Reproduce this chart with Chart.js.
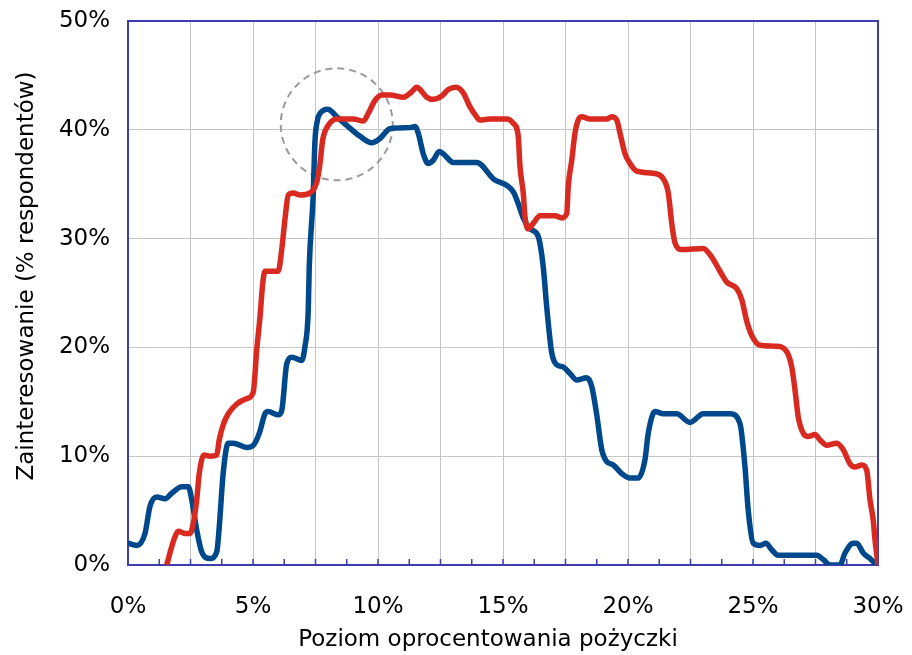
<!DOCTYPE html>
<html lang="pl">
<head>
  <meta charset="UTF-8" />
  <title>Zainteresowanie a oprocentowanie pożyczki</title>
  <script src="https://cdn.jsdelivr.net/npm/chart.js"></script>
  <style>
    body {
      margin: 0;
      background: #fff;
    }
    .chart-container {
      position: relative;
      width: 912px;
      height: 655px;
    }
  </style>
</head>
<body>
  <div class="chart-container">
    <canvas id="interestChart"></canvas>
  </div>

  <script>
    // niebieska seria: oprocentowanie (%) i zainteresowanie (%)
    const blueX = [0, 0.35, 0.68, 0.88, 1.15, 1.48, 1.75, 2.15, 2.41, 2.55, 2.75, 2.95, 3.28, 3.55, 3.65, 3.81,
      4.01, 4.21, 4.75, 5.01, 5.25, 5.48, 5.61, 6.01, 6.15, 6.35, 6.55, 6.95, 7.08, 7.21, 7.25, 7.4, 7.48, 7.58,
      7.68, 7.99, 8.35, 8.75, 9.28, 9.75, 10.08, 10.48, 11.28, 11.48, 11.61, 11.81, 12.01, 12.21, 12.45, 12.61,
      13.01, 13.95, 14.61, 15.41, 15.61, 15.81, 16.08, 16.41, 16.61, 16.75, 16.95, 17.15, 17.41, 17.68, 17.95,
      18.35, 18.55, 18.75, 18.95, 19.15, 19.41, 19.75, 20.08, 20.41, 20.68, 20.81, 21.08, 21.41, 21.95, 22.48,
      23.01, 24.08, 24.48, 24.68, 24.81, 25.01, 25.28, 25.52, 25.75, 26.01, 27.55, 27.81, 28.08, 28.48, 28.68,
      29.01, 29.15, 29.41, 29.68, 29.95];
    const blueY = [2.0, 1.8, 2.9, 5.4, 6.25, 6.1, 6.6, 7.2, 7.2, 6.0, 3.2, 1.2, 0.6, 1.2, 3.5, 8.5,
      11.2, 11.2, 10.8, 11.0, 12.1, 13.9, 14.1, 13.8, 14.2, 18.5, 19.1, 18.8, 20.1, 23.4, 27.4, 33.6, 39.0, 40.9,
      41.5, 41.9, 41.2, 40.4, 39.4, 38.8, 39.2, 40.1, 40.2, 40.3, 39.7, 37.8, 36.9, 37.2, 38.0, 37.8,
      37.0, 37.0, 35.5, 34.3, 33.2, 31.9, 30.9, 30.2, 27.4, 23.7, 19.5, 18.4, 18.2, 17.6, 17.0,
      17.2, 16.4, 13.8, 10.6, 9.5, 9.2, 8.4, 8.0, 8.0, 9.7, 12.1, 14.1, 13.9, 13.9, 13.1,
      13.9, 13.9, 13.0, 9.0, 5.0, 2.0, 1.8, 2.0, 1.4, 0.9, 0.9, 0.5, 0, 0, 1.1,
      2.0, 2.0, 1.1, 0.6, 0];

    // czerwona seria
    const redX = [1.55, 1.75, 1.88, 2.01, 2.28, 2.48, 2.61, 2.75, 2.85, 3.04, 3.28, 3.55, 3.65, 3.81, 4.01,
      4.35, 4.75, 5.01, 5.15, 5.28, 5.39, 5.48, 6.01, 6.15, 6.28, 6.41, 6.61, 6.88, 7.28, 7.55, 7.68, 7.79,
      8.01, 8.35, 9.01, 9.41, 9.61, 9.88, 10.15, 10.48, 11.01, 11.35, 11.55, 11.68, 11.95, 12.21, 12.55,
      12.81, 13.12, 13.41, 13.68, 13.88, 14.08, 14.48, 15.15, 15.41, 15.61, 15.68, 15.81, 15.88, 16.01,
      16.21, 16.48, 17.08, 17.35, 17.55, 17.61, 17.75, 17.88, 18.01, 18.15, 18.48, 19.15, 19.35, 19.55,
      19.68, 19.88, 20.08, 20.35, 21.01, 21.41, 21.61, 21.75, 21.88, 22.15, 23.01, 23.35, 23.68, 23.95,
      24.35, 24.55, 24.75, 24.95, 25.28, 25.95, 26.35, 26.55, 26.68, 26.81, 27.01, 27.21, 27.48, 27.68,
      27.95, 28.35, 28.61, 28.88, 29.08, 29.35, 29.55, 29.68, 29.81, 29.88, 30.0];
    const redY = [0, 1.7, 2.6, 3.1, 2.9, 2.9, 3.8, 6.0, 8.4, 10.1, 10.0, 10.1, 11.5, 12.9, 13.9,
      14.8, 15.3, 15.9, 19.8, 22.8, 25.9, 27.0, 27.0, 29.0, 31.8, 34.0, 34.2, 34.0, 34.2, 35.2, 36.9, 39.1,
      40.4, 41.0, 41.0, 40.8, 41.5, 42.7, 43.2, 43.2, 43.0, 43.5, 43.9, 43.7, 43.0, 42.8, 43.1,
      43.7, 43.9, 43.4, 42.1, 41.4, 40.9, 41.0, 41.0, 40.6, 39.4, 36.6, 34.2, 32.0, 30.9,
      31.4, 32.1, 32.1, 31.9, 32.3, 34.8, 37.2, 39.7, 40.9, 41.2, 41.0, 41.0, 41.2, 40.9,
      39.7, 37.8, 36.9, 36.2, 36.0, 35.5, 34.2, 31.4, 29.6, 29.0, 29.1, 28.3, 27.0, 26.0,
      25.4, 24.4, 22.4, 21.1, 20.2, 20.1, 19.6, 18.2, 16.1, 13.6, 12.1, 11.8, 12.0, 11.5,
      11.0, 11.2, 10.6, 9.3, 9.0, 9.2, 8.7, 6.0, 4.1, 2.3, 0];

    // zaznaczony obszar (środek okręgu w jednostkach osi)
    const circleX = 8.35;
    const circleY = 40.5;

    const fontFamily = '"DejaVu Sans", sans-serif';
    const frameColor = '#3d3dad';
    const gridColor = '#c6c6c6';

    function toPoints(xs, ys) {
      return xs.map((x, i) => ({ x: x, y: ys[i] }));
    }

    const framePlugin = {
      id: 'frame',
      beforeDatasetsDraw(chart) {
        const { ctx, chartArea: a, scales } = chart;
        ctx.save();

        // przerywany okrąg
        ctx.beginPath();
        ctx.setLineDash([7, 5]);
        ctx.strokeStyle = '#9a9a9a';
        ctx.lineWidth = 2;
        ctx.arc(scales.x.getPixelForValue(circleX), scales.y.getPixelForValue(circleY), 56, 0, Math.PI * 2);
        ctx.stroke();
        ctx.setLineDash([]);

        // ramka wykresu
        ctx.strokeStyle = frameColor;
        ctx.lineWidth = 2;
        ctx.strokeRect(a.left, a.top, a.right - a.left, a.bottom - a.top);

        // krótkie kreski osi X do środka
        ctx.lineWidth = 1.5;
        scales.x.ticks.forEach(t => {
          const px = scales.x.getPixelForValue(t.value);
          ctx.beginPath();
          ctx.moveTo(px, a.bottom);
          ctx.lineTo(px, a.bottom - 6);
          ctx.stroke();
        });
        ctx.restore();
      },
      afterDraw(chart) {
        const ctx = chart.ctx;
        ctx.save();
        ctx.fillStyle = '#000';
        ctx.font = '23px ' + fontFamily;
        ctx.textAlign = 'center';
        ctx.textBaseline = 'middle';
        ctx.fillText('Poziom oprocentowania pożyczki', 488, 640);
        ctx.translate(27, 276);
        ctx.rotate(-Math.PI / 2);
        ctx.fillText('Zainteresowanie (% respondentów)', 0, 0);
        ctx.restore();
      }
    };

    new Chart(document.getElementById('interestChart'), {
      type: 'line',
      data: {
        datasets: [
          {
            data: toPoints(redX, redY),
            borderColor: '#d92a21',
            borderWidth: 5.5,
            pointRadius: 0,
            cubicInterpolationMode: 'monotone'
          },
          {
            data: toPoints(blueX, blueY),
            borderColor: '#00488c',
            borderWidth: 5.5,
            pointRadius: 0,
            cubicInterpolationMode: 'monotone'
          }
        ]
      },
      options: {
        responsive: true,
        maintainAspectRatio: false,
        animation: false,
        layout: { padding: { top: 21, right: 34, left: 0, bottom: 0 } },
        plugins: {
          legend: { display: false },
          tooltip: { enabled: false }
        },
        scales: {
          x: {
            type: 'linear',
            min: 0,
            max: 30,
            afterFit: s => {
              s.height = 90;
              s.paddingLeft = 0;
              s.paddingRight = 0;
            },
            border: { display: false },
            grid: {
              color: c => (c.tick && c.tick.value % 2.5 === 0) ? gridColor : 'rgba(0,0,0,0)',
              lineWidth: 1,
              drawTicks: false,
              tickLength: 0
            },
            ticks: {
              stepSize: 1.25,
              autoSkip: false,
              maxRotation: 0,
              padding: 28,
              color: '#000',
              font: { family: fontFamily, size: 23 },
              callback: v => (v % 5 === 0) ? v + '%' : ''
            }
          },
          y: {
            min: 0,
            max: 50,
            afterFit: s => {
              s.width = 128;
              s.paddingTop = 0;
              s.paddingBottom = 0;
            },
            border: { display: false },
            grid: {
              color: gridColor,
              lineWidth: 1,
              drawTicks: false,
              tickLength: 0
            },
            ticks: {
              stepSize: 10,
              padding: 18,
              color: '#000',
              font: { family: fontFamily, size: 23 },
              callback: v => v + '%'
            }
          }
        }
      },
      plugins: [framePlugin]
    });
  </script>
</body>
</html>
